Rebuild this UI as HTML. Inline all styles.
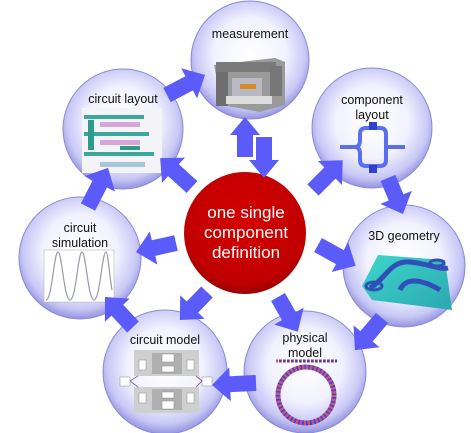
<!DOCTYPE html>
<html><head><meta charset="utf-8"><style>
html,body{margin:0;padding:0;background:#fff;width:471px;height:433px;overflow:hidden}
svg{display:block}
text{font-family:"Liberation Sans",sans-serif;fill:#111}
</style></head><body>
<svg width="471" height="433" viewBox="0 0 471 433" xmlns="http://www.w3.org/2000/svg">
<defs>
<radialGradient id="sph" cx="0.5" cy="0.45" r="0.55">
<stop offset="0" stop-color="#ffffff"/>
<stop offset="0.55" stop-color="#f2f2ff"/>
<stop offset="0.85" stop-color="#c8c8f6"/>
<stop offset="1" stop-color="#9494e0"/>
</radialGradient>
<radialGradient id="red" cx="0.5" cy="0.4" r="0.6">
<stop offset="0" stop-color="#d40000"/>
<stop offset="0.85" stop-color="#c00000"/>
<stop offset="1" stop-color="#9a0000"/>
</radialGradient>
<linearGradient id="teal" x1="0" y1="0" x2="1" y2="1">
<stop offset="0" stop-color="#3fd6cc"/><stop offset="1" stop-color="#2aa8b0"/>
</linearGradient>
</defs>
<g stroke="#8a8ad8" stroke-width="1">
<circle cx="250" cy="60" r="59" fill="url(#sph)"/>
<circle cx="123" cy="129" r="60" fill="url(#sph)"/>
<circle cx="372" cy="128" r="60" fill="url(#sph)"/>
<circle cx="80" cy="258" r="61" fill="url(#sph)"/>
<circle cx="404" cy="266" r="61" fill="url(#sph)"/>
<circle cx="305" cy="372" r="61" fill="url(#sph)"/>
<circle cx="165" cy="372" r="62" fill="url(#sph)"/>
</g>
<circle cx="245" cy="233" r="61" fill="url(#red)"/>

<g>
<polygon points="214,65 275,58 285,62 285,105 260,112 222,105" fill="#9a9a9a"/>
<rect x="216" y="66" width="12" height="40" fill="#6e6e6e"/>
<rect x="216" y="62" width="60" height="10" fill="#7a7a7a"/>
<rect x="270" y="66" width="12" height="30" fill="#777"/>
<rect x="232" y="78" width="30" height="18" fill="#b9b9c4"/>
<rect x="240" y="84" width="16" height="5" fill="#d88a2a"/>
<rect x="226" y="96" width="46" height="8" fill="#ddd"/>
</g>
<g>
<rect x="82" y="108" width="80" height="65" fill="#f4f4f8"/>
<rect x="84" y="115" width="60" height="4" fill="#3aa89a"/>
<rect x="84" y="132" width="65" height="4" fill="#3aa89a"/>
<rect x="84" y="152" width="70" height="4" fill="#3aa89a"/>
<rect x="100" y="122" width="40" height="5" fill="#d6a6d6"/>
<rect x="100" y="140" width="40" height="5" fill="#d6a6d6"/>
<rect x="100" y="162" width="45" height="5" fill="#a6c6d6"/>
<rect x="88" y="120" width="6" height="30" fill="#2e9a8a"/>
<rect x="120" y="146" width="20" height="4" fill="#2e9a8a"/>
</g>
<g fill="none" stroke="#5a6ef0" stroke-width="4">
<path d="M340,147 L355,147 Q360,147 360,140 L360,134 Q360,128 366,128 L380,128 Q386,128 386,134 L386,160 Q386,166 380,166 L366,166 Q360,166 360,160 L360,154 Q360,147 355,147"/>
<path d="M386,147 L405,147"/>
</g>
<rect x="369" y="122" width="8" height="8" fill="#3040d0"/>
<rect x="369" y="165" width="8" height="8" fill="#3040d0"/>
<g>
<rect x="44" y="250" width="70" height="52" fill="#fff" stroke="#bbb" stroke-width="0.6"/>
<path d="M46,300 C52,300 54,252 58,252 C62,252 64,300 70,300 C76,300 78,252 82,252 C86,252 88,300 94,300 C100,300 102,252 106,252 C108,252 110,280 112,290" fill="none" stroke="#9a9aa8" stroke-width="1.2"/>
</g>
<g>
<polygon points="362,286 378,255 445,260 452,310 372,300" fill="url(#teal)"/>
<path d="M370,288 C385,280 390,260 410,262 C430,264 440,270 448,268 M400,290 C405,278 420,278 440,290" fill="none" stroke="#3050b8" stroke-width="5"/>
<ellipse cx="374" cy="286" rx="8" ry="4" fill="none" stroke="#3050b8" stroke-width="3"/>
<ellipse cx="437" cy="263" rx="7" ry="3" fill="none" stroke="#3050b8" stroke-width="3"/>
</g>
<g>
<line x1="276" y1="361" x2="337" y2="361" stroke="#e05050" stroke-width="3" stroke-dasharray="2 2"/>
<line x1="277" y1="361" x2="337" y2="361" stroke="#4040e0" stroke-width="3" stroke-dasharray="2 2" stroke-dashoffset="2"/>
<circle cx="306" cy="395" r="28" fill="none" stroke="#e05050" stroke-width="5" stroke-dasharray="2 2"/>
<circle cx="306" cy="395" r="28" fill="none" stroke="#4040e0" stroke-width="5" stroke-dasharray="2 2" stroke-dashoffset="2"/>
</g>
<g>
<rect x="134" y="350" width="65" height="26" fill="#cfcfcf"/>
<rect x="134" y="387" width="65" height="26" fill="#cfcfcf"/>
<rect x="152" y="353" width="30" height="21" fill="#b0b0b0"/>
<rect x="152" y="389" width="30" height="21" fill="#b0b0b0"/>
<rect x="162" y="354" width="12" height="8" fill="#fff" stroke="#888" stroke-width="0.5"/>
<rect x="162" y="366" width="12" height="6" fill="#fff" stroke="#888" stroke-width="0.5"/>
<rect x="162" y="392" width="12" height="6" fill="#fff" stroke="#888" stroke-width="0.5"/>
<rect x="162" y="401" width="12" height="8" fill="#fff" stroke="#888" stroke-width="0.5"/>
<rect x="139" y="360" width="7" height="10" fill="#fff" stroke="#888" stroke-width="0.5"/>
<rect x="187" y="360" width="7" height="10" fill="#fff" stroke="#888" stroke-width="0.5"/>
<rect x="139" y="393" width="7" height="10" fill="#fff" stroke="#888" stroke-width="0.5"/>
<rect x="187" y="393" width="7" height="10" fill="#fff" stroke="#888" stroke-width="0.5"/>
<rect x="120" y="377" width="10" height="9" fill="#fff" stroke="#888" stroke-width="0.5"/>
<rect x="202" y="377" width="10" height="9" fill="#fff" stroke="#888" stroke-width="0.5"/>
<path d="M130,381 L138,376 M130,381 L138,387 M202,381 L196,376 M202,381 L196,387" stroke="#8a6a9a" stroke-width="1"/>
</g>

<g fill="#5b5bfa">
<polygon transform="translate(167,95) rotate(-27.8)" points="0,-8 25,-8 25,-17 43,0 25,17 25,8 0,8"/>
<polygon transform="translate(245,157) rotate(-90)" points="0,-8 22,-8 22,-15 40,0 22,15 22,8 0,8"/>
<polygon transform="translate(264,137) rotate(90)" points="0,-8 23,-8 23,-15 41,0 23,15 23,8 0,8"/>
<polygon transform="translate(313,190) rotate(-45)" points="0,-8 24,-8 24,-17 42,0 24,17 24,8 0,8"/>
<polygon transform="translate(388,178) rotate(67.4)" points="0,-8 21,-8 21,-17 39,0 21,17 21,8 0,8"/>
<polygon transform="translate(318,245) rotate(28.9)" points="0,-8 25,-8 25,-17 43,0 25,17 25,8 0,8"/>
<polygon transform="translate(382,318) rotate(130.2)" points="0,-8 24,-8 24,-17 42,0 24,17 24,8 0,8"/>
<polygon transform="translate(278,297) rotate(60.3)" points="0,-8 22,-8 22,-17 40,0 22,17 22,8 0,8"/>
<polygon transform="translate(256,383) rotate(177.4)" points="0,-8 26,-8 26,-17 44,0 26,17 26,8 0,8"/>
<polygon transform="translate(207,292) rotate(134)" points="0,-8 21,-8 21,-17 39,0 21,17 21,8 0,8"/>
<polygon transform="translate(133,327) rotate(-133)" points="0,-8 23,-8 23,-17 41,0 23,17 23,8 0,8"/>
<polygon transform="translate(176,243) rotate(167.3)" points="0,-8 23,-8 23,-17 41,0 23,17 23,8 0,8"/>
<polygon transform="translate(88,207) rotate(-62.9)" points="0,-8 26,-8 26,-17 44,0 26,17 26,8 0,8"/>
<polygon transform="translate(192,187) rotate(-137.8)" points="0,-8 25,-8 25,-17 43,0 25,17 25,8 0,8"/>
</g>

<g font-size="12.5" text-anchor="middle">
<text x="250" y="38">measurement</text>
<text x="123" y="103">circuit layout</text>
<text x="372" y="104">component</text>
<text x="372" y="119">layout</text>
<text x="80" y="232">circuit</text>
<text x="80" y="247">simulation</text>
<text x="404" y="240">3D geometry</text>
<text x="305" y="342">physical</text>
<text x="305" y="357">model</text>
<text x="165" y="344">circuit model</text>
</g>
<g font-size="17" text-anchor="middle">
<text x="246" y="218" style="fill:#fff">one single</text>
<text x="246" y="238" style="fill:#fff">component</text>
<text x="246" y="258" style="fill:#fff">definition</text>
</g>
</svg>
</body></html>
